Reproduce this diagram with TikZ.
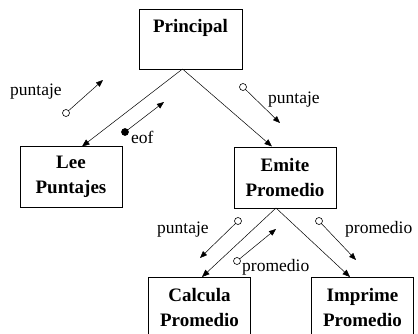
\documentclass[tikz,border=0pt]{standalone}
\usepackage{fontspec}
\setmainfont{Liberation Serif}
\usetikzlibrary{arrows.meta}
\begin{document}
\begin{tikzpicture}[x=1pt,y=-1pt,
  module/.style={draw, line width=0.7pt, minimum width=102pt, minimum height=61pt,
    inner sep=0pt, font=\fontsize{19}{25}\selectfont\bfseries, align=center},
  link/.style={line width=0.5pt, -{Triangle[length=7.5pt,width=6pt]}},
  flow/.style={line width=0.5pt, -{Triangle[length=7pt,width=5.5pt]}},
  datum/.style={circle, draw, fill=white, line width=0.6pt, minimum size=7pt, inner sep=0pt},
  control/.style={datum, fill=black},
  tag/.style={font=\fontsize{17.5}{17.5}\selectfont, inner sep=0pt}]
\clip (0,0) rectangle (418,333);
\fill[white] (0,0) rectangle (418,333);

% modules of the structure chart
\node[module, minimum width=103pt, minimum height=60pt] (principal) at (190.5,39) {};
\node[font=\fontsize{19}{25}\selectfont\bfseries, inner sep=0pt] (ptitle) at (190.5,28) {Principal};
\node[module] (lee) at (71,177) {Lee\\Puntajes};
\node[module] (emite) at (285,177.5) {Emite\\Promedio};
\node[module] (calcula) at (199.5,307.5) {Calcula\\Promedio};
\node[module] (imprime) at (362.5,307.5) {Imprime\\Promedio};

% call connectors
\coordinate (pfork) at (182.5,69);
\coordinate (leein) at (82,146.5);
\coordinate (emitein) at (272,146.5);
\coordinate (efork) at (276,208);
\coordinate (calcin) at (202,277);
\coordinate (imprin) at (350,277);
\draw[link] (pfork) -- (leein);
\draw[link] (pfork) -- (emitein);
\draw[link] (efork) -- (calcin);
\draw[link] (efork) -- (imprin);

% data and control couples
\node[datum] (c1) at (66,113) {};
\coordinate (c1e) at (103,80);
\draw[flow] (c1) -- (c1e);
\node[tag, anchor=base west] (t1) at (10,95) {puntaje};

\node[control] (c2) at (125,132) {};
\coordinate (c2e) at (164,102);
\draw[flow] (c2) -- (c2e);
\node[tag, anchor=base west] (t2) at (131,143) {eof};

\node[datum] (c3) at (243,87) {};
\coordinate (c3e) at (280,123);
\draw[flow] (c3) -- (c3e);
\node[tag, anchor=base west] (t3) at (268,103) {puntaje};

\node[datum] (c4) at (238,221) {};
\coordinate (c4e) at (200,258);
\draw[flow] (c4) -- (c4e);
\node[tag, anchor=base west] (t4) at (157,233) {puntaje};

\node[datum] (c5) at (237,261) {};
\coordinate (c5e) at (276,229);
\draw[flow] (c5) -- (c5e);
\node[tag, anchor=base west] (t5) at (242,271) {promedio};

\node[datum] (c6) at (319,221) {};
\coordinate (c6e) at (356,260);
\draw[flow] (c6) -- (c6e);
\node[tag, anchor=base west] (t6) at (345,233) {promedio};
\end{tikzpicture}
\end{document}
